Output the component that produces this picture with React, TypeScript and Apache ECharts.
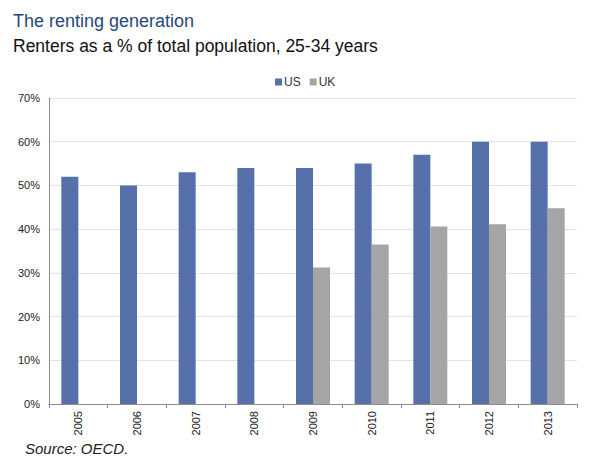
import React, { useEffect, useRef } from "react";
import * as echarts from "echarts";

// Renters aged 25-34, share of total population (%)
const years = ["2005", "2006", "2007", "2008", "2009", "2010", "2011", "2012", "2013"];
const usValues = [52, 50, 53, 54, 54, 55, 57, 60, 60];
const ukValues: (number | null)[] = [null, null, null, null, 31.2, 36.5, 40.6, 41.1, 44.8];
const yTicks = [0, 10, 20, 30, 40, 50, 60, 70];

const FONT = "'Liberation Sans', Arial, sans-serif";

export default function App() {
  const ref = useRef<HTMLDivElement>(null);

  useEffect(() => {
    if (!ref.current) return;
    const chart = echarts.init(ref.current, undefined, { renderer: "svg" });
    chart.setOption({
      animation: false,
      backgroundColor: "#ffffff",
      textStyle: { fontFamily: FONT },
      title: [
        {
          text: "The renting generation",
          left: 13,
          top: 12,
          padding: 0,
          textStyle: { fontFamily: FONT, fontSize: 18, fontWeight: "normal", color: "#27497a" },
        },
        {
          text: "Renters as a % of total population, 25-34 years",
          left: 13,
          top: 37,
          padding: 0,
          textStyle: { fontFamily: FONT, fontSize: 17.5, fontWeight: "normal", color: "#111111" },
        },
        {
          text: "Source: OECD.",
          left: 25,
          top: 441,
          padding: 0,
          textStyle: { fontFamily: FONT, fontSize: 15, fontStyle: "italic", fontWeight: "normal", color: "#222222" },
        },
      ],
      legend: {
        top: 71,
        left: 270,
        itemWidth: 7,
        itemHeight: 7,
        itemGap: 9,
        icon: "rect",
        textStyle: { fontFamily: FONT, fontSize: 12, color: "#333333", padding: [0, 0, 0, -3] },
        data: ["US", "UK"],
      },
      grid: { left: 49, right: 23, top: 98, bottom: 71 },
      xAxis: {
        type: "category",
        data: years,
        axisLine: { lineStyle: { color: "#8c8c8c", width: 1 } },
        axisTick: { show: true, length: 4, lineStyle: { color: "#8c8c8c" } },
        axisLabel: {
          rotate: 90,
          fontFamily: FONT,
          fontSize: 11,
          color: "#222222",
          margin: 7,
        },
      },
      yAxis: {
        type: "value",
        min: 0,
        max: 70,
        interval: 10,
        axisLine: { show: true, lineStyle: { color: "#8c8c8c", width: 1 } },
        axisTick: { show: false },
        splitLine: { lineStyle: { color: "#e3e3e3", width: 1 } },
        axisLabel: {
          fontFamily: FONT,
          fontSize: 11,
          color: "#222222",
          margin: 9,
          formatter: (v: number) => (yTicks.includes(v) ? `${v}%` : ""),
        },
      },
      series: [
        {
          name: "US",
          type: "bar",
          data: usValues,
          barWidth: 17,
          barGap: "0%",
          itemStyle: { color: "#5670aa" },
        },
        {
          name: "UK",
          type: "bar",
          data: ukValues,
          barWidth: 17,
          barGap: "0%",
          itemStyle: { color: "#a5a5a5" },
        },
      ],
    });
    return () => chart.dispose();
  }, []);

  return (
    <div
      ref={ref}
      style={{ position: "fixed", left: 0, top: 0, width: 600, height: 475 }}
    />
  );
}
